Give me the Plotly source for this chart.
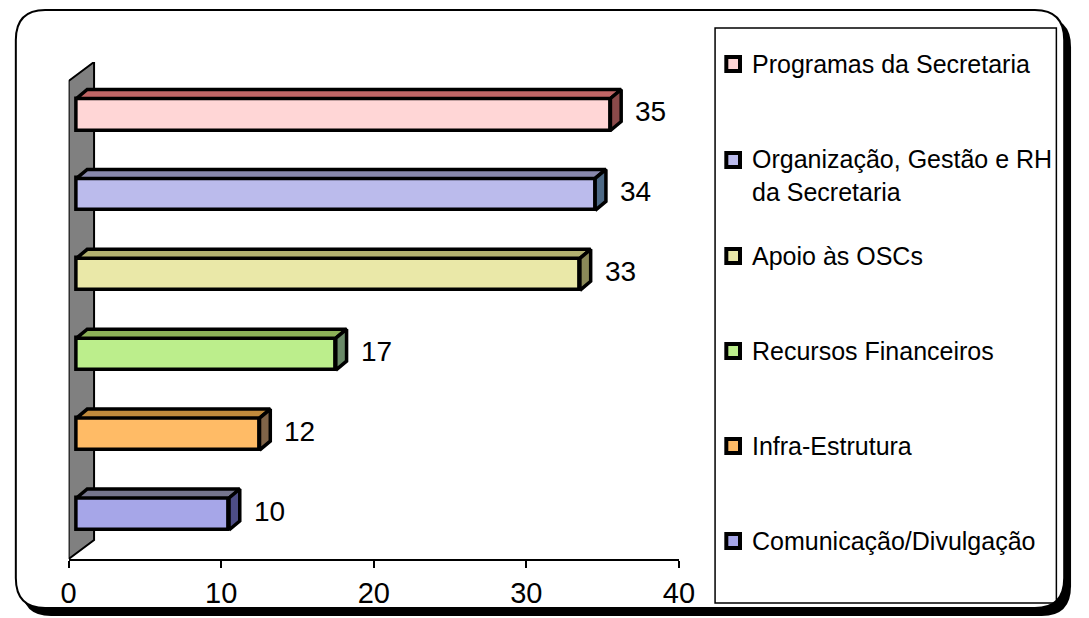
import plotly.graph_objects as go

# ---------------- data ----------------
categories = ["Programas da Secretaria",
              "Organização, Gestão e RH da Secretaria",
              "Apoio às OSCs",
              "Recursos Financeiros",
              "Infra-Estrutura",
              "Comunicação/Divulgação"]
legend_labels = ["Programas da Secretaria",
                 "Organização, Gestão e RH<br>da Secretaria",
                 "Apoio às OSCs",
                 "Recursos Financeiros",
                 "Infra-Estrutura",
                 "Comunicação/Divulgação"]
values = [35, 34, 33, 17, 12, 10]
x_ticks = [0, 10, 20, 30, 40]

front_colors = ["#FFD6D6", "#BBBBEC", "#EAE8A8", "#BCEE8C", "#FFBB66", "#A6A6E8"]
top_colors = ["#C06666", "#8888AC", "#B2B070", "#8CB058", "#C08A3C", "#76768E"]
side_colors = ["#8A4A4A", "#4E6A86", "#8A8858", "#6A8A68", "#806448", "#4E4E86"]

# ---------------- geometry (pixels) ----------------
W, H = 1089, 618
XL, XR = 62, 686          # x axis 0 and 40
YB, YT = 559, 62          # plot area bottom / top
C_BOT, C_TOP = 514, 114.5 # centres of bottom and top bar
ppx = (XR - XL) / (x_ticks[-1] - x_ticks[0])
ppy = (C_BOT - C_TOP) / (len(values) - 1)
ux, uy = 1 / ppx, 1 / ppy
ymin = -(YB - C_BOT) / ppy
ymax = (len(values) - 1) + (C_TOP - YT) / ppy

off = 8 * ux          # bar front offset from wall
dx, dy = 11 * ux, 9 * uy
h = 32 * uy
n = len(values)
pos = [n - 1 - i for i in range(n)]

FONT = "Liberation Sans, Arial, sans-serif"
LW = 3.5

fig = go.Figure()

# front faces
fig.add_trace(go.Bar(
    y=pos, x=values, base=off, orientation="h", width=h,
    marker=dict(color=front_colors, line=dict(color="black", width=LW)),
    showlegend=False, hoverinfo="skip"))

# top and side faces
for i, v in enumerate(values):
    c = pos[i]
    x0, x1 = off, off + v
    yb, yt = c - h / 2, c + h / 2
    fig.add_trace(go.Scatter(
        x=[x0, x1, x1 + dx, x0 + dx, x0], y=[yt, yt, yt + dy, yt + dy, yt],
        fill="toself", fillcolor=top_colors[i], mode="lines",
        line=dict(color="black", width=LW), showlegend=False, hoverinfo="skip"))
    fig.add_trace(go.Scatter(
        x=[x1, x1, x1 + dx, x1 + dx, x1], y=[yb, yt, yt + dy, yb + dy, yb],
        fill="toself", fillcolor=side_colors[i], mode="lines",
        line=dict(color="black", width=LW), showlegend=False, hoverinfo="skip"))

annotations = []
for i, v in enumerate(values):
    annotations.append(dict(
        x=off + v + dx, y=pos[i] + 3 * uy, xref="x", yref="y",
        text=str(v), showarrow=False, xanchor="left", yanchor="middle",
        xshift=12, font=dict(family=FONT, size=28, color="black")))

# ---------------- shapes ----------------
def P(x, y):
    return f"{x / W:.5f},{1 - y / H:.5f}"

def rrect(x0, y0, x1, y1, r):
    return (f"M {P(x0 + r, y0)} L {P(x1 - r, y0)} Q {P(x1, y0)} {P(x1, y0 + r)} "
            f"L {P(x1, y1 - r)} Q {P(x1, y1)} {P(x1 - r, y1)} "
            f"L {P(x0 + r, y1)} Q {P(x0, y1)} {P(x0, y1 - r)} "
            f"L {P(x0, y0 + r)} Q {P(x0, y0)} {P(x0 + r, y0)} Z")

shapes = [
    dict(type="path", xref="paper", yref="paper", layer="below",
         path=rrect(14, 17, 1087, 616, 30), fillcolor="black", line=dict(width=0)),
    dict(type="path", xref="paper", yref="paper", layer="below",
         path=rrect(8, 10, 1080, 608, 30), fillcolor="white",
         line=dict(color="black", width=2)),
    # wall
    dict(type="path", xref="x", yref="y", layer="below",
         path=(f"M 0,{ymin} L 0,{ymax - 19 * uy} L {26 * ux},{ymax} "
               f"L {26 * ux},{ymin + 19 * uy} Z"),
         fillcolor="#808080", line=dict(color="black", width=2)),
    # legend box
    dict(type="rect", xref="paper", yref="paper",
         x0=723 / W, x1=1072 / W, y0=1 - 603 / H, y1=1 - 28 / H,
         line=dict(color="black", width=1.5), fillcolor="rgba(0,0,0,0)"),
]

leg_y = [64, 160, 256, 351, 446, 541]
for i, lab in enumerate(legend_labels):
    yc = leg_y[i]
    shapes.append(dict(type="rect", xref="paper", yref="paper",
                       x0=734.5 / W, x1=748.5 / W, y0=1 - (yc + 7) / H, y1=1 - (yc - 7) / H,
                       fillcolor=front_colors[i], line=dict(color="black", width=4)))
    if "<br>" in lab:
        annotations.append(dict(x=759 / W, y=1 - (yc - 17) / H, xref="paper", yref="paper",
                                text=lab, showarrow=False, xanchor="left", yanchor="top",
                                align="left",
                                font=dict(family=FONT, size=25, color="black")))
    else:
        annotations.append(dict(x=759 / W, y=1 - yc / H, xref="paper", yref="paper",
                                text=lab, showarrow=False, xanchor="left", yanchor="middle",
                                font=dict(family=FONT, size=25, color="black")))

fig.update_layout(
    width=W, height=H, margin=dict(l=0, r=0, t=0, b=0),
    paper_bgcolor="white", plot_bgcolor="rgba(0,0,0,0)",
    shapes=shapes, annotations=annotations, bargap=0,
    xaxis=dict(domain=[XL / W, XR / W], range=[x_ticks[0], x_ticks[-1]],
               tickvals=x_ticks, ticks="outside", ticklen=7, tickwidth=2,
               tickcolor="black", showline=True, linecolor="black", linewidth=2,
               showgrid=False, zeroline=False,
               tickfont=dict(family=FONT, size=29, color="black")),
    yaxis=dict(domain=[1 - YB / H, 1 - YT / H], range=[ymin, ymax], visible=False),
)

fig.write_html("out.html")
